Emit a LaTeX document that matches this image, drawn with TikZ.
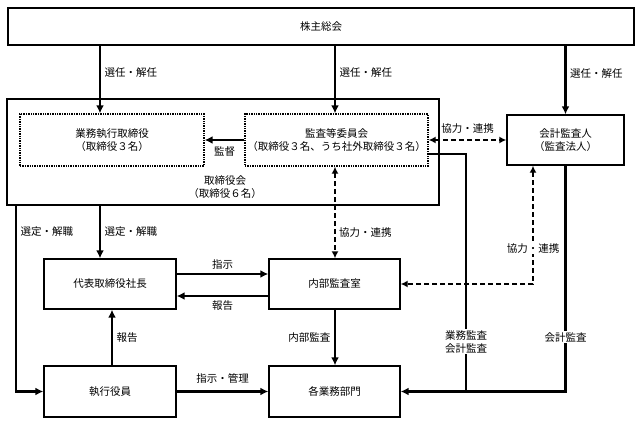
\documentclass[tikz,border=0pt]{standalone}
\usepackage{fontspec}
\setmainfont{Noto Sans CJK JP}
\usepackage{tikz}
\usetikzlibrary{positioning}
\usetikzlibrary{arrows.meta}
\usetikzlibrary{calc}
\tikzstyle{line} = [draw, line width=2.4pt, -{Latex[length=8pt,width=8pt]}]
\tikzstyle{link} = [draw, line width=1.6pt, dash pattern=on 5pt off 3pt, {Latex[length=7pt,width=7pt]}-{Latex[length=7pt,width=7pt]}]

\begin{document}
\begin{tikzpicture}[x=1pt, y=-1pt, font=\fontsize{10.5}{13}\selectfont,
				unit/.style={draw, rectangle, line width=1.4pt, inner sep=2pt},
				member/.style={draw, rectangle, densely dotted, line width=1.4pt, inner sep=2pt},
				every text node part/.style={align=center}]

				\useasboundingbox (0,0) rectangle (640,423);

				\coordinate (colA) at (100,0);
				\coordinate (colB) at (16,0);
				\coordinate (colC) at (466,0);
				\coordinate (colD) at (533,0);
				\coordinate (colE) at (335,0);

				\node (gm) at (321,26.5) [unit, minimum width=626pt, minimum height=37pt] {株主総会};
				\node (board) at (223,152) [unit, minimum width=432pt, minimum height=106pt] {};
				\node (boardlbl) at (225,187) {取締役会\\（取締役６名）};
				\node (execdir) at (112,140) [member, minimum width=184pt, minimum height=52pt] {業務執行取締役\\（取締役３名）};
				\node (audcom) at (336.5,140) [member, minimum width=183pt, minimum height=52pt] {監査等委員会\\（取締役３名、うち社外取締役３名）};
				\node (auditor) at (565.5,140) [unit, minimum width=117pt, minimum height=50pt] {会計監査人\\（監査法人）};
				\node (president) at (110,284) [unit, minimum width=132pt, minimum height=50pt] {代表取締役社長};
				\node (intaudit) at (334.5,284) [unit, minimum width=131pt, minimum height=50pt] {内部監査室};
				\node (officers) at (110,391.5) [unit, minimum width=132pt, minimum height=51pt] {執行役員};
				\node (divisions) at (334.5,391.5) [unit, minimum width=131pt, minimum height=51pt] {各業務部門};

				\draw [line] (gm.south -| colA) -- node[right, pos=0.4] {選任・解任} (execdir.north -| colA);
				\draw [line] (gm.south -| colE) -- node[right, pos=0.4] {選任・解任} (audcom.north -| colE);
				\draw [line] (gm.south -| auditor.north) -- node[right, pos=0.4] {選任・解任} (auditor.north);

				\draw [line] (audcom.west) -- node[below=2pt] {監督} (execdir.east);
				\draw [link] (audcom.east) -- node[above=2pt] {協力・連携} (auditor.west);
				\draw [link] (audcom.south -| colE) -- node[right, pos=0.72] {協力・連携} (intaudit.north -| colE);
				\draw [link] (auditor.south -| colD) |- node[fill=white, inner sep=1pt, pos=0.35] {協力・連携} (intaudit.east);

				\draw [line, -] ([yshift=-14pt]audcom.east) -| node[fill=white, inner sep=1pt, pos=0.895] {業務監査\\会計監査} (divisions.east -| colC);
				\draw [line] (auditor.south) |- node[fill=white, inner sep=1pt, pos=0.38] {会計監査} (divisions.east);

				\draw [line] (board.south -| colA) -- node[right] {選定・解職} (president.north -| colA);
				\draw [line] (board.south -| colB) |- node[right, pos=0.07] {選定・解職} (officers.west);

				\draw [line] ([yshift=10pt]president.east) -- node[above] {指示} ([yshift=10pt]intaudit.west);
				\draw [line] ([yshift=-12pt]intaudit.west) -- node[below] {報告} ([yshift=-12pt]president.east);
				\draw [line] ([xshift=2pt]officers.north) -- node[right] {報告} ([xshift=2pt]president.south);
				\draw [line] (officers.east) -- node[above=4pt] {指示・管理} (divisions.west);
				\draw [line] (intaudit.south -| colE) -- node[left] {内部監査} (divisions.north -| colE);

			\end{tikzpicture}
\end{document}
